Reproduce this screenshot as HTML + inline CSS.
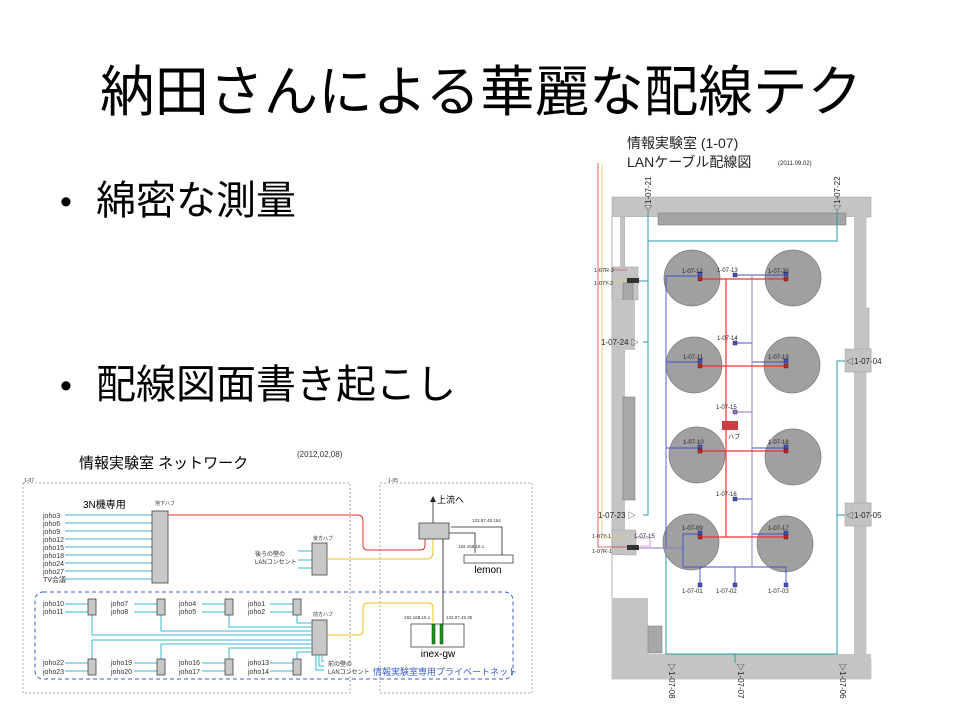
<!DOCTYPE html>
<html><head><meta charset="utf-8"><style>
html,body{margin:0;padding:0;background:#fff;}
svg{display:block;font-family:"Liberation Sans","Noto Sans CJK JP",sans-serif;}
</style></head><body>
<svg width="960" height="720" viewBox="0 0 960 720" xmlns="http://www.w3.org/2000/svg">
<!-- Title -->
<text x="481" y="111" font-size="55" text-anchor="middle" fill="#000" textLength="762" lengthAdjust="spacingAndGlyphs">納田さんによる華麗な配線テク</text>
<text x="60" y="213" font-size="34">•</text>
<text x="96" y="214" font-size="40">綿密な測量</text>
<text x="60" y="397" font-size="34">•</text>
<text x="96" y="398" font-size="40">配線図面書き起こし</text>

<!-- LEFT DIAGRAM -->
<g font-size="7" fill="#333">
<text x="79" y="468" font-size="15" fill="#000">情報実験室 ネットワーク</text>
<text x="297" y="457" font-size="8">(2012,02,08)</text>
<rect x="23" y="483" width="327" height="210" fill="none" stroke="#888" stroke-width="0.7" stroke-dasharray="2,2"/>
<rect x="380" y="483" width="152" height="210" fill="none" stroke="#888" stroke-width="0.7" stroke-dasharray="2,2"/>
<text x="24" y="482" font-size="5">1-07</text>
<text x="388" y="482" font-size="5">1-05</text>
<text x="83" y="508" font-size="10" fill="#000">3N機専用</text>
<text x="155" y="505" font-size="5">地下ハブ</text>
<g stroke="#3ab8d0" stroke-width="1">
<line x1="65" y1="515" x2="152" y2="515"/><line x1="65" y1="523" x2="152" y2="523"/><line x1="65" y1="531" x2="152" y2="531"/>
<line x1="65" y1="539" x2="152" y2="539"/><line x1="65" y1="547" x2="152" y2="547"/><line x1="65" y1="555" x2="152" y2="555"/>
<line x1="65" y1="563" x2="152" y2="563"/><line x1="65" y1="571" x2="152" y2="571"/><line x1="65" y1="579" x2="152" y2="579"/>
<line x1="298" y1="551" x2="312" y2="551"/><line x1="298" y1="560" x2="312" y2="560"/><line x1="298" y1="568" x2="312" y2="568"/>
</g>
<g font-size="7">
<text x="43" y="518">joho3</text><text x="43" y="526">joho6</text><text x="43" y="534">joho9</text>
<text x="43" y="542">joho12</text><text x="43" y="550">joho15</text><text x="43" y="558">joho18</text>
<text x="43" y="566">joho24</text><text x="43" y="574">joho27</text><text x="43" y="582">TV会議</text>
</g>
<rect x="152" y="511" width="16" height="72" fill="#c8c8c8" stroke="#444" stroke-width="0.8"/>
<path d="M168 515 H357 Q363 515 363 521 V545 Q363 550 368 550 H420 Q425 550 425 545 V539" fill="none" stroke="#e03030" stroke-width="1"/>
<rect x="312" y="543" width="15" height="32" fill="#c8c8c8" stroke="#444" stroke-width="0.8"/>
<text x="313" y="540" font-size="5">後方ハブ</text>
<text x="255" y="556" font-size="6">後ろの壁の</text>
<text x="255" y="564" font-size="6">LANコンセント</text>
<path d="M327 559 H426 Q433 559 433 552 V539" fill="none" stroke="#f0c020" stroke-width="1"/>
<rect x="419" y="523" width="30" height="16" fill="#c8c8c8" stroke="#444" stroke-width="0.8"/>
<line x1="433" y1="523" x2="433" y2="500" stroke="#222" stroke-width="0.8"/>
<path d="M430 502 L433 496 L436 502 Z" fill="#222"/>
<text x="437" y="503" font-size="9" fill="#000">上流へ</text>
<rect x="464" y="555" width="49" height="8" fill="#fff" stroke="#444" stroke-width="0.8"/>
<text x="488" y="573" font-size="10" text-anchor="middle" fill="#000">lemon</text>
<path d="M502 555 V527 H451" fill="none" stroke="#222" stroke-width="0.8"/>
<path d="M449 533 H475 V553" fill="none" stroke="#222" stroke-width="0.8"/>
<text x="472" y="522" font-size="4.5">133.87.45.154</text>
<text x="458" y="548" font-size="4.5">192.168.16.1</text>
<line x1="443" y1="539" x2="443" y2="624" stroke="#333" stroke-width="0.9"/>
<rect x="411" y="624" width="53" height="23" fill="#fff" stroke="#444" stroke-width="0.8"/>
<rect x="432" y="624" width="3" height="20" fill="#1a9a1a" stroke="#222" stroke-width="0.5"/>
<rect x="440" y="624" width="3" height="20" fill="#1a9a1a" stroke="#222" stroke-width="0.5"/>
<text x="438" y="657" font-size="10" text-anchor="middle" fill="#000">inex-gw</text>
<text x="404" y="619" font-size="4.5">192.168.16.1</text>
<text x="446" y="619" font-size="4.5">133.87.45.35</text>
<path d="M327 635 H358 Q363 635 363 630 V608 Q363 603 368 603 H428 Q433 603 433 608 V624" fill="none" stroke="#f0c020" stroke-width="1"/>
<rect x="35" y="592" width="478" height="87" rx="8" fill="none" stroke="#3a5fd0" stroke-width="1" stroke-dasharray="4,3"/>
<text x="373" y="675" font-size="9" fill="#3a5fd0">情報実験室専用プライベートネット</text>
<rect x="312" y="620" width="15" height="35" fill="#c8c8c8" stroke="#444" stroke-width="0.8"/>
<text x="313" y="616" font-size="5">前方ハブ</text>
<g stroke="#3ab8d0" stroke-width="1" fill="none">
<path d="M92 615 V635 H312"/><path d="M161 615 V631 H312"/><path d="M229 615 V627 H312"/><path d="M297 615 V623 H312"/>
<path d="M92 659 V640 H312"/><path d="M161 659 V644 H312"/><path d="M229 659 V648 H312"/><path d="M297 659 V652 H312"/>
<path d="M316 655 V670 H324"/><path d="M319 655 V666 H324"/><path d="M322 655 V661 H324"/>
<line x1="65" y1="604" x2="88" y2="604"/><line x1="65" y1="612" x2="88" y2="612"/>
<line x1="134" y1="604" x2="157" y2="604"/><line x1="134" y1="612" x2="157" y2="612"/>
<line x1="202" y1="604" x2="225" y2="604"/><line x1="202" y1="612" x2="225" y2="612"/>
<line x1="270" y1="604" x2="293" y2="604"/><line x1="270" y1="612" x2="293" y2="612"/>
<line x1="65" y1="663" x2="88" y2="663"/><line x1="65" y1="671" x2="88" y2="671"/>
<line x1="134" y1="663" x2="157" y2="663"/><line x1="134" y1="671" x2="157" y2="671"/>
<line x1="202" y1="663" x2="225" y2="663"/><line x1="202" y1="671" x2="225" y2="671"/>
<line x1="270" y1="663" x2="293" y2="663"/><line x1="270" y1="671" x2="293" y2="671"/>
</g>
<g fill="#c8c8c8" stroke="#444" stroke-width="0.8">
<rect x="88" y="599" width="8" height="16"/><rect x="157" y="599" width="8" height="16"/><rect x="225" y="599" width="8" height="16"/><rect x="293" y="599" width="8" height="16"/>
<rect x="88" y="659" width="8" height="16"/><rect x="157" y="659" width="8" height="16"/><rect x="225" y="659" width="8" height="16"/><rect x="293" y="659" width="8" height="16"/>
</g>
<g font-size="7">
<text x="43" y="606">joho10</text><text x="43" y="614">joho11</text>
<text x="111" y="606">joho7</text><text x="111" y="614">joho8</text>
<text x="179" y="606">joho4</text><text x="179" y="614">joho5</text>
<text x="248" y="606">joho1</text><text x="248" y="614">joho2</text>
<text x="43" y="665">joho22</text><text x="43" y="674">joho23</text>
<text x="111" y="665">joho19</text><text x="111" y="674">joho20</text>
<text x="179" y="665">joho16</text><text x="179" y="674">joho17</text>
<text x="248" y="665">joho13</text><text x="248" y="674">joho14</text>
</g>
<text x="328" y="666" font-size="6">前の壁の</text>
<text x="328" y="674" font-size="6">LANコンセント</text>
</g>

<!-- RIGHT DIAGRAM -->
<g font-size="6" fill="#222">
<text x="627" y="148" font-size="14" fill="#222">情報実験室 (1-07)</text>
<text x="627" y="167" font-size="14" fill="#222">LANケーブル配線図</text>
<text x="778" y="165" font-size="6">(2011.09.02)</text>
<g fill="#c4c4c4" stroke="#999" stroke-width="0.5">
<path d="M612 197 H871 V217 H866 V308 H869 V349 H871 V372 H866 V503 H871 V526 H866 V658 H871 V679 H612 V598 H636 V565 H612 Z M625 217 V598 H648 V654 H854 V526 H845 V503 H854 V372 H845 V349 H854 V217 Z"/>
<rect x="612" y="217" width="13" height="381"/>
</g>
<rect x="625" y="217" width="229" height="437" fill="#fff"/>
<rect x="612" y="217" width="8" height="50" fill="#fff"/>
<line x1="612" y1="217" x2="612" y2="267" stroke="#999" stroke-width="0.6"/>
<rect x="612" y="267" width="26" height="33" fill="#c4c4c4" stroke="#999" stroke-width="0.5"/>
<rect x="623" y="283" width="10" height="25" fill="#a8a8a8" stroke="#777" stroke-width="0.5"/>
<rect x="612" y="300" width="13" height="300" fill="#c4c4c4"/>
<rect x="625" y="300" width="10" height="50" fill="#c4c4c4"/>
<rect x="623" y="397" width="12" height="103" fill="#a8a8a8" stroke="#777" stroke-width="0.5"/>
<rect x="612" y="530" width="24" height="25" fill="#c4c4c4" stroke="#999" stroke-width="0.5"/>
<rect x="612" y="555" width="13" height="43" fill="#fff"/>
<line x1="612" y1="555" x2="612" y2="598" stroke="#999" stroke-width="0.6"/>
<rect x="612" y="598" width="36" height="81" fill="#c4c4c4"/>
<rect x="648" y="654" width="223" height="25" fill="#c4c4c4"/>
<rect x="648" y="626" width="14" height="27" fill="#a8a8a8" stroke="#777" stroke-width="0.5"/>
<rect x="854" y="217" width="12" height="437" fill="#c4c4c4"/>
<rect x="845" y="349" width="26" height="23" fill="#c4c4c4" stroke="#999" stroke-width="0.5"/>
<rect x="845" y="503" width="26" height="23" fill="#c4c4c4" stroke="#999" stroke-width="0.5"/>
<rect x="658" y="213" width="188" height="12" fill="#a4a4a4" stroke="#777" stroke-width="0.5"/>
<rect x="627" y="278" width="12" height="5" fill="#333"/>
<rect x="627" y="545" width="12" height="5" fill="#333"/>
<path d="M598 163 V547 H627" fill="none" stroke="#d04040" stroke-width="0.8"/>
<path d="M602 163 V538 H627" fill="none" stroke="#e0d050" stroke-width="0.8"/>
<line x1="612" y1="270" x2="627" y2="270" stroke="#d04040" stroke-width="0.6"/>
<line x1="612" y1="281" x2="627" y2="281" stroke="#e0d050" stroke-width="0.6"/>
<path d="M636 538 H650 V546 H640" fill="none" stroke="#d080d0" stroke-width="0.8"/>
<g stroke="#2a9aaa" stroke-width="1" fill="none">
<path d="M648 212 V515 H643"/>
<path d="M648 241 H837 V212"/>
<path d="M639 281 H648"/><path d="M648 342 H643"/>
<path d="M666 547 V654 H837 V361 H845"/>
<path d="M837 515 H845"/><path d="M735 654 V663"/>
<path d="M639 548 H666"/>
</g>
<g fill="#a0a0a0" stroke="#777" stroke-width="0.7">
<circle cx="692" cy="278" r="28"/><circle cx="793" cy="278" r="28"/>
<circle cx="694" cy="365" r="28"/><circle cx="792" cy="365" r="28"/>
<circle cx="697" cy="455" r="28"/><circle cx="793" cy="457" r="28"/>
<circle cx="691" cy="542" r="28"/><circle cx="785" cy="544" r="28"/>
</g>
<g stroke="#4050d0" stroke-width="0.9" fill="none">
<path d="M700 276 H666 V548"/><path d="M700 362 H666"/><path d="M700 448 H666"/>
<path d="M735 275 H786"/><path d="M735 343 H752"/><path d="M752 362 H786"/>
<path d="M752 448 H786"/><path d="M735 499 H752"/><path d="M752 534 H786"/>
<path d="M700 534 H683 V567 H786 V585"/><path d="M700 567 V585"/><path d="M735 567 V585"/>
</g>
<g stroke="#9070d0" stroke-width="0.9" fill="none">
<path d="M752 275 V567"/><path d="M735 412 H752"/>
<path d="M639 548 H683"/>
</g>
<g stroke="#f03030" stroke-width="1.2" fill="none">
<path d="M700 279 H786"/><path d="M700 366 H786"/><path d="M700 451 H786"/><path d="M700 537 H786"/>
<path d="M726 279 V537"/>
</g>
<rect x="722" y="421" width="16" height="9" fill="#c84040"/>
<text x="728" y="439" font-size="6">ハブ</text>
<g fill="#4050d0" stroke="#222" stroke-width="0.4">
<rect x="698" y="272" width="4" height="4"/><rect x="784" y="272" width="4" height="4"/>
<rect x="698" y="359" width="4" height="4"/><rect x="784" y="359" width="4" height="4"/>
<rect x="698" y="445" width="4" height="4"/><rect x="784" y="445" width="4" height="4"/>
<rect x="698" y="531" width="4" height="4"/><rect x="784" y="531" width="4" height="4"/>
<rect x="733" y="273" width="4" height="4"/><rect x="733" y="341" width="4" height="4"/>
<rect x="733" y="497" width="4" height="4"/>
<rect x="698" y="583" width="4" height="4"/><rect x="733" y="583" width="4" height="4"/><rect x="784" y="583" width="4" height="4"/>
</g>
<rect x="733" y="410" width="4" height="4" fill="#9070d0" stroke="#222" stroke-width="0.4"/>
<g fill="#d02020" stroke="#222" stroke-width="0.4">
<rect x="698" y="277" width="4" height="4"/><rect x="784" y="277" width="4" height="4"/>
<rect x="698" y="364" width="4" height="4"/><rect x="784" y="364" width="4" height="4"/>
<rect x="698" y="449" width="4" height="4"/><rect x="784" y="449" width="4" height="4"/>
<rect x="698" y="535" width="4" height="4"/><rect x="784" y="535" width="4" height="4"/>
</g>
<g font-size="6">
<text x="682" y="273">1-07-12</text><text x="768" y="273">1-07-20</text>
<text x="717" y="272">1-07-13</text><text x="717" y="340">1-07-14</text>
<text x="683" y="359">1-07-11</text><text x="768" y="359">1-07-19</text>
<text x="716" y="409">1-07-15</text>
<text x="683" y="444">1-07-10</text><text x="768" y="444">1-07-18</text>
<text x="716" y="496">1-07-16</text>
<text x="682" y="530">1-07-09</text><text x="768" y="530">1-07-17</text>
<text x="682" y="593">1-07-01</text><text x="716" y="593">1-07-02</text><text x="768" y="593">1-07-03</text>
<text x="594" y="272" font-size="5.5">1-07R-2</text><text x="594" y="285" font-size="5.5">1-07Y-2</text>
<text x="592" y="538" font-size="5.5">1-07Y-1</text><text x="592" y="553" font-size="5.5">1-07R-1</text>
<text x="634" y="538">1-07-15</text>
<text x="601" y="345" font-size="8">1-07-24 ▷</text>
<text x="598" y="518" font-size="8">1-07-23 ▷</text>
<text x="846" y="364" font-size="8">◁1-07-04</text>
<text x="846" y="518" font-size="8">◁1-07-05</text>
<text transform="translate(651,212) rotate(-90)" font-size="8">◁1-07-21</text>
<text transform="translate(840,212) rotate(-90)" font-size="8">◁1-07-22</text>
<text transform="translate(669,663) rotate(90)" font-size="8">▷1-07-08</text>
<text transform="translate(738,663) rotate(90)" font-size="8">▷1-07-07</text>
<text transform="translate(840,663) rotate(90)" font-size="8">▷1-07-06</text>
</g>
</g>
</svg>
</body></html>
